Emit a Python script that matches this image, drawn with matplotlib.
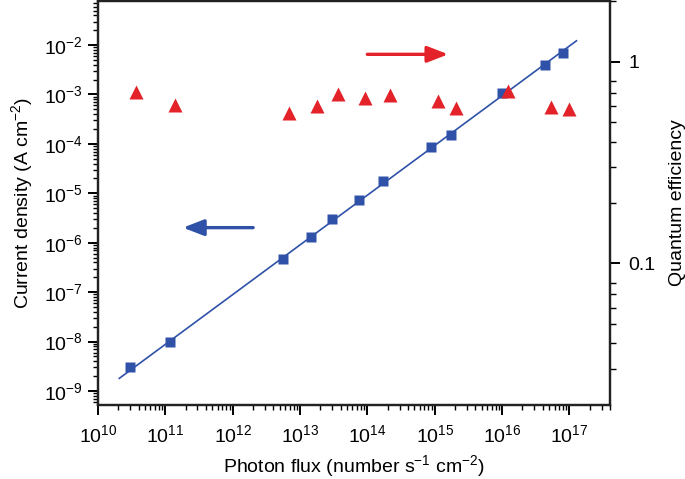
import matplotlib
matplotlib.use("Agg")
import matplotlib.pyplot as plt
from matplotlib.ticker import LogLocator, LogFormatterSciNotation, FixedLocator, FixedFormatter, NullFormatter

plt.rcParams['font.family'] = ['Liberation Sans', 'DejaVu Sans']
plt.rcParams['mathtext.fontset'] = 'custom'
plt.rcParams['mathtext.rm'] = 'Liberation Sans'
plt.rcParams['mathtext.it'] = 'Liberation Sans:italic'
plt.rcParams['mathtext.bf'] = 'Liberation Sans:bold'
plt.rcParams['font.size'] = 14

# Current density (left axis)
flux_j = [2.97e10, 1.16e11, 5.5e12, 1.45e13, 3.02e13, 7.5e13, 1.72e14,
          8.9e14, 1.74e15, 9.9e15, 4.34e16, 7.9e16]
current = [3.0e-9, 1.0e-8, 4.6e-7, 1.29e-6, 3.06e-6, 7.3e-6, 1.77e-5,
           8.6e-5, 1.51e-4, 1.05e-3, 3.9e-3, 7.0e-3]

# Linear fit line endpoints
fit_x = [2.07e10, 1.27e17]
fit_y = [1.8e-9, 1.22e-2]

# Quantum efficiency (right axis)
flux_q = [3.65e10, 1.41e11, 6.76e12, 1.78e13, 3.67e13, 9.2e13, 2.14e14,
          1.11e15, 2.09e15, 1.24e16, 5.3e16, 9.8e16]
qe = [0.706, 0.608, 0.556, 0.604, 0.69, 0.663, 0.687,
      0.639, 0.588, 0.716, 0.594, 0.583]

blue = '#2f52a8'
red = '#e42229'

fig = plt.figure(figsize=(6.85, 4.79), dpi=100)
ax = fig.add_axes([98/685, 1-405/479, 512/685, 404/479])
ax2 = ax.twinx()

ax.plot(fit_x, fit_y, '-', color=blue, lw=1.2, zorder=2)
ax.plot(flux_j, current, 's', color=blue, ms=7.7, mec='none', zorder=3)
ax2.plot(flux_q, qe, '^', color=red, ms=10, mec='none', zorder=3)

ax.set_xscale('log')
ax.set_yscale('log')
ax2.set_yscale('log')
ax.set_xlim(1e10, 4e17)
ax.set_ylim(5.2e-10, 7.8e-2)
ax2.set_ylim(0.0198, 2.0)

ax.xaxis.set_major_locator(LogLocator(base=10, numticks=20))
ax.xaxis.set_minor_locator(LogLocator(base=10, subs=range(2, 10), numticks=100))
ax.xaxis.set_major_formatter(LogFormatterSciNotation())
ax.xaxis.set_minor_formatter(NullFormatter())
ax.yaxis.set_major_locator(FixedLocator([1e-9, 1e-8, 1e-7, 1e-6, 1e-5, 1e-4, 1e-3, 1e-2]))
ax.yaxis.set_minor_locator(LogLocator(base=10, subs=range(2, 10), numticks=100))
ax.yaxis.set_major_formatter(LogFormatterSciNotation())
ax.yaxis.set_minor_formatter(NullFormatter())

ax2.yaxis.set_major_locator(FixedLocator([0.1, 1]))
ax2.yaxis.set_major_formatter(FixedFormatter(['0.1', '1']))
ax2.yaxis.set_minor_locator(FixedLocator([0.03, 0.04, 0.05, 0.06, 0.07, 0.08,
                                          0.2, 0.3, 0.4, 0.5, 0.6, 0.7, 0.8, 2]))
ax2.yaxis.set_minor_formatter(NullFormatter())

for a in (ax, ax2):
    for s in a.spines.values():
        s.set_linewidth(1.6)
        s.set_color('#222222')
ax.tick_params(which='major', direction='out', length=7, width=1.4, labelsize=14, pad=4)
ax.tick_params(axis='x', which='major', pad=7)
ax.tick_params(which='minor', direction='out', length=3.5, width=1.0)
ax.tick_params(axis='y', which='both', right=False)
ax2.tick_params(which='major', direction='out', length=7, width=1.4, labelsize=14, pad=6)
ax2.tick_params(which='minor', direction='out', length=4, width=1.0)

ax.set_xlabel('Photon flux (number s$^{-1}$ cm$^{-2}$)', fontsize=14, labelpad=5)
ax.set_ylabel('Current density (A cm$^{-2}$)', fontsize=14, labelpad=6)
ax2.set_ylabel('Quantum efficiency', fontsize=14, labelpad=10)

ax.annotate('', xy=(0.684, 0.868), xytext=(0.526, 0.868), xycoords='axes fraction',
            arrowprops=dict(arrowstyle='-|>,head_length=0.9,head_width=0.35',
                            color=red, lw=2.4, shrinkA=0, shrinkB=0))
ax.annotate('', xy=(0.166, 0.439), xytext=(0.303, 0.439), xycoords='axes fraction',
            arrowprops=dict(arrowstyle='-|>,head_length=0.9,head_width=0.35',
                            color=blue, lw=2.4, shrinkA=0, shrinkB=0))

fig.savefig('out.png', dpi=100)
